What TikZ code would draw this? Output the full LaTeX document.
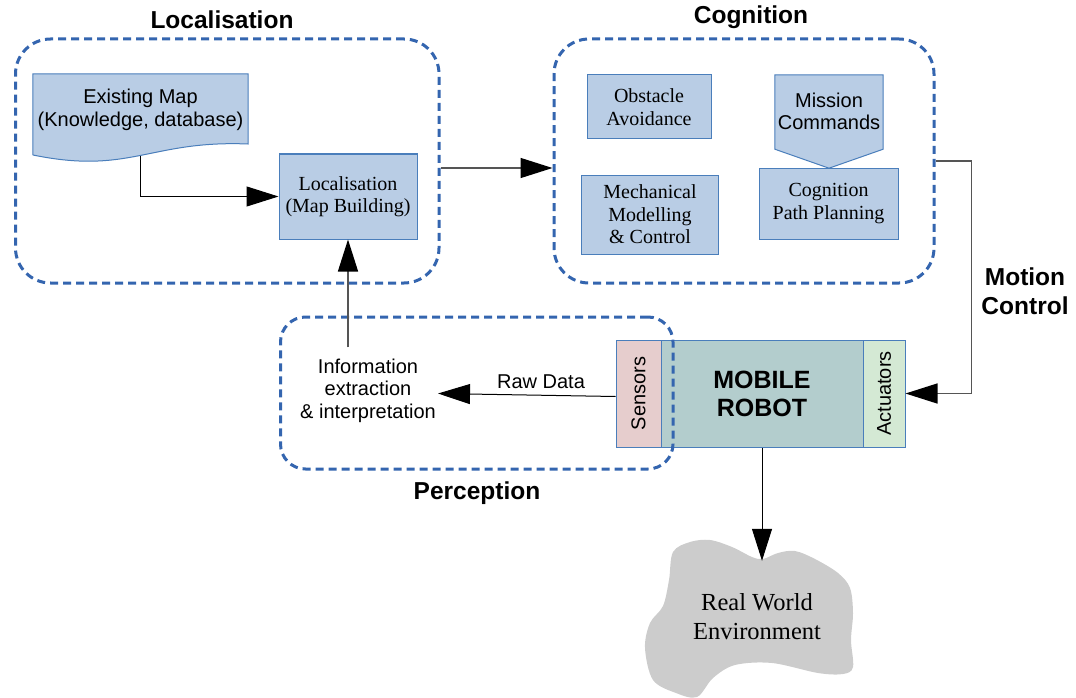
\documentclass[tikz,border=0pt]{standalone}
\usepackage{fontspec}
\setmainfont{Liberation Sans}
\newfontfamily\timesfont{Liberation Serif}
\usetikzlibrary{arrows.meta}

\definecolor{boxfill}{HTML}{B9CDE5}
\definecolor{boxdraw}{HTML}{4A7EBB}
\definecolor{dashblue}{HTML}{3465AF}
\definecolor{sensfill}{HTML}{E6CDCD}
\definecolor{robotfill}{HTML}{B3CDCD}
\definecolor{actfill}{HTML}{D4E9D4}
\definecolor{cloudfill}{HTML}{CCCCCC}
\definecolor{conngray}{HTML}{555555}

\newcommand{\txtsans}{\fontsize{20}{22.5}\selectfont}
\newcommand{\txtserif}{\timesfont\fontsize{20}{22.5}\selectfont}
\newcommand{\txttitle}{\bfseries\fontsize{24.5}{29}\selectfont}
\newcommand{\txtcloud}{\timesfont\fontsize{24.5}{29}\selectfont}

\begin{document}
\begin{tikzpicture}[x=1pt,y=-1pt,
  groupbox/.style={draw=dashblue, line width=3pt, dash pattern=on 8pt off 5pt,
    rounded corners=#1, inner sep=0pt},
  groupbox/.default=35pt,
  block/.style={draw=boxdraw, fill=boxfill, line width=1pt, inner sep=0pt,
    align=center, font=\txtserif},
  robotpart/.style={draw=boxdraw, line width=1pt, inner sep=0pt,
    minimum height=107pt},
  plaintext/.style={align=center, font=\txtsans, inner sep=2pt},
  title/.style={align=center, font=\txttitle, inner sep=0pt},
  conn/.style={draw=black, line width=1pt,
    -{Triangle[length=32pt,width=20pt,color=black]}},
  conngrey/.style={conn, draw=conngray, line width=1.4pt}
]
\useasboundingbox (0,0) rectangle (1076,698);

% ---- group frames ----
\node[groupbox, minimum width=423.5pt, minimum height=244pt] (loc) at (227.25,161) {};
\node[groupbox, minimum width=380pt, minimum height=244pt] (cog) at (744,161) {};

\node[title] (loctitle) at (222,20) {Localisation};
\node[title] (cogtitle) at (751,17) {Cognition};

% ---- localisation ----
\node[inner sep=0pt, minimum width=215pt, minimum height=82pt] (em) at (140.5,115) {};
\draw[boxdraw, fill=boxfill, line width=1pt]
  (em.north west) -- (em.north east) -- (248,144)
  .. controls (150,140) and (130,175) .. (33,155) -- cycle;
\node[plaintext] (emtext) at (140.5,110) {Existing Map\\(Knowledge, database)};

\node[block, minimum width=138pt, minimum height=85pt] (lb) at (348,196.5)
  {Localisation\\(Map Building)};

% ---- cognition ----
\node[block, minimum width=124pt, minimum height=64pt] (obst) at (649,107)
  {Obstacle\\Avoidance};
\node[block, minimum width=136.5pt, minimum height=79pt] (mech) at (650,214.5)
  {Mechanical\\Modelling\\\& Control};
\node[inner sep=0pt, minimum width=108pt, minimum height=74pt] (mc) at (829,112) {};
\draw[boxdraw, fill=boxfill, line width=1pt]
  (mc.north west) -- (mc.north east) -- (mc.south east)
  -- ([yshift=-19pt]mc.south) -- (mc.south west) -- cycle;
\node[plaintext] (mctext) at (829,111.5) {Mission\\Commands};
\node[block, minimum width=139pt, minimum height=71pt] (path) at (828.5,203.5)
  {Cognition\\Path Planning};

% ---- mobile robot ----
\node[robotpart, fill=sensfill, minimum width=45pt] (sens) at (638.5,393.5) {};
\node[robotpart, fill=robotfill, minimum width=202pt, align=center,
  font=\bfseries\fontsize{25}{28}\selectfont] (robot) at (762,393.5) {MOBILE\\ROBOT};
\node[robotpart, fill=actfill, minimum width=42pt] (act) at (884,393.5) {};
\node[plaintext, rotate=90] (senstext) at (sens.center) {Sensors};
\node[plaintext, rotate=90] (acttext) at (act.center) {Actuators};

% ---- perception ----
\node[groupbox=25pt, minimum width=392.5pt, minimum height=152pt] (perc) at (476.75,393) {};
\node[title] (perctitle) at (477,493) {Perception};
\node[plaintext] (info) at (368,390.5) {Information\\extraction\\\& interpretation};
\node[plaintext] (raw) at (541,382) {Raw Data};

\node[title] (motion) at (1025,291.5) {Motion\\Control};

% ---- environment ----
\fill[cloudfill] plot[smooth cycle, tension=0.55] coordinates {
  (673,552) (690,542) (710,540) (732,547) (752,557) (763,559) (778,553)
  (795,551) (815,559) (838,573) (850,588) (853,613) (851,640) (853,667)
  (843,674) (818,673) (772,663) (735,665) (713,678) (697,697) (676,693)
  (653,680) (645,648) (650,623) (663,606) (669,580)};
\node[align=center, font=\txtcloud, inner sep=0pt, minimum height=112pt] (env)
  at (757,617) {Real World\\Environment};

% ---- connectors ----
\draw[conn] (em.south) |- (lb.west);
\draw[conngrey] ([yshift=-7pt]loc.east) -- ([yshift=-7pt]cog.west);
\draw[conngrey] (cog.east) -| ([xshift=66pt]act.east) -- (act.east);
\draw[conngrey] ([yshift=9pt]info.north -| lb.south) -- (lb.south);
\draw[conn] ([yshift=-3pt]sens.west) -- ([yshift=-3pt]info.east);
\draw[conn] (robot.south) -- (robot.south |- env.north);
\end{tikzpicture}
\end{document}
